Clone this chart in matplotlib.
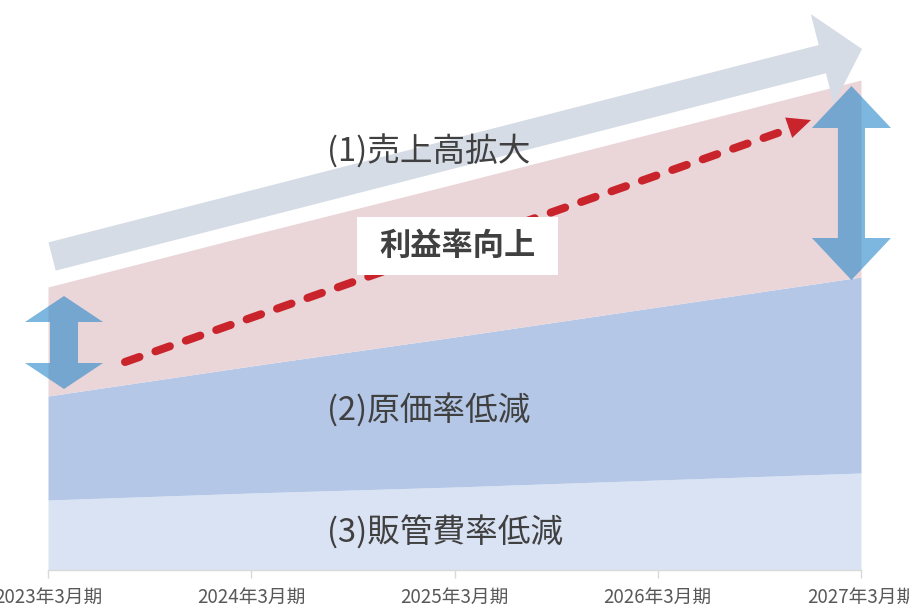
import matplotlib
matplotlib.use("Agg")
import matplotlib.pyplot as plt
from matplotlib.patches import Polygon, Rectangle
import numpy as np

plt.rcParams['font.family'] = ['Noto Sans CJK JP', 'DejaVu Sans']

# データ (縦軸は相対値、下から積み上げ)
periods = ['2023年3月期', '2024年3月期', '2025年3月期', '2026年3月期', '2027年3月期']
sga_cut = [70, 77, 83, 90, 97]          # (3)販管費率低減
cogs_cut = [104, 127, 150, 173, 196]    # (2)原価率低減
profit = [109, 131, 153, 175, 197]      # 利益

labels = ['(1)売上高拡大', '(2)原価率低減', '(3)販管費率低減']
highlight = '利益率向上'

c_sga, c_cogs, c_profit = '#dae3f3', '#b4c7e7', '#ead5d8'
c_gray, c_blue, c_red, c_text = '#d6dce5', (0.18, 0.54, 0.80), '#c9242b', '#404040'


def double_arrow(ax, xc, y_lo, y_hi, head_len, head_w, shaft_w):
    hw, sw = head_w / 2, shaft_w / 2
    pts = [(xc, y_hi), (xc + hw, y_hi - head_len), (xc + sw, y_hi - head_len),
           (xc + sw, y_lo + head_len), (xc + hw, y_lo + head_len), (xc, y_lo),
           (xc - hw, y_lo + head_len), (xc - sw, y_lo + head_len),
           (xc - sw, y_hi - head_len), (xc - hw, y_hi - head_len)]
    ax.add_patch(Polygon(pts, closed=True, facecolor=c_blue, alpha=0.62,
                         edgecolor='none', clip_on=False, zorder=5))


fig = plt.figure(figsize=(9.09, 6.07), dpi=100)
ax = fig.add_axes([48 / 909, 37 / 607, 813 / 909, 570 / 607])

x = np.arange(len(periods))
s1 = np.array(sga_cut)
s2 = s1 + np.array(cogs_cut)
s3 = s2 + np.array(profit)

ax.fill_between(x, 0, s1, color=c_sga, linewidth=0, zorder=1)
ax.fill_between(x, s1, s2, color=c_cogs, linewidth=0, zorder=1)
ax.fill_between(x, s2, s3, color=c_profit, linewidth=0, zorder=1)

ax.set_xlim(0, 4)
ax.set_ylim(0, 570)
ax.set_xticks(x)
ax.set_xticklabels(periods, fontsize=13.5, color='#595959')
ax.tick_params(axis='x', length=5.8, width=1, color='#d9d9d9', pad=6)
ax.set_yticks([])
for side in ['left', 'top', 'right']:
    ax.spines[side].set_visible(False)
ax.spines['bottom'].set_color('#d9d9d9')
ax.spines['bottom'].set_linewidth(1)

# (1)売上高拡大 の矢印
ax.annotate('', xy=(4.005, 521), xytext=(0.02, 313.5),
            arrowprops=dict(arrowstyle='simple,head_length=29.5,head_width=67,tail_width=21',
                            mutation_scale=1, color=c_gray, shrinkA=0, shrinkB=0, lw=0),
            annotation_clip=False, zorder=2)

# 利益率向上 の点線矢印
ax.plot([0.379, 3.66], [208, 442], color=c_red, lw=5.8, linestyle=(0, (1.9, 2.1)),
        dash_capstyle='round', zorder=3)
ax.annotate('', xy=(3.754, 450), xytext=(3.64, 442),
            arrowprops=dict(arrowstyle='simple,head_length=17,head_width=15.5,tail_width=0.1',
                            mutation_scale=1, color=c_red, shrinkA=0, shrinkB=0, lw=0),
            zorder=3)

# 上下の矢印
double_arrow(ax, 0.0787, 181, 274, 26, 0.384, 0.138)
double_arrow(ax, 3.953, 290, 484, 42, 0.389, 0.133)

# ラベル
ax.text(1.373, 418, labels[0], fontsize=23.5, color=c_text, ha='left', va='center', zorder=6)
ax.text(1.373, 160, labels[1], fontsize=23.5, color=c_text, ha='left', va='center', zorder=6)
ax.text(1.373, 37, labels[2], fontsize=23.5, color=c_text, ha='left', va='center', zorder=6)

ax.add_patch(Rectangle((1.520, 295), 0.989, 58, facecolor='white', edgecolor='none', zorder=6))
ax.text(2.014, 324, highlight, fontsize=22.5, fontweight='bold', color=c_text,
        ha='center', va='center', zorder=7)

fig.savefig('out.png', dpi=100)
